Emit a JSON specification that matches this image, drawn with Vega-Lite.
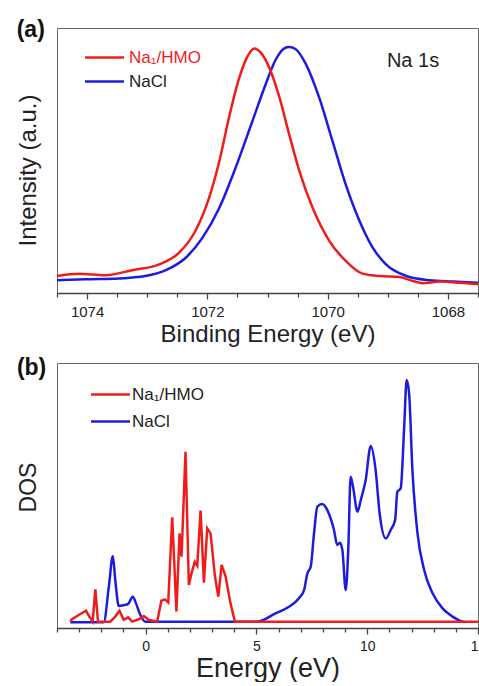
{
  "$schema": "https://vega.github.io/schema/vega-lite/v6.json",
  "padding": {"left": 15, "top": 18, "right": 0, "bottom": 0},
  "background": "white",
  "config": {
    "font": "Liberation Sans",
    "view": {"stroke": "#666", "strokeWidth": 1},
    "axis": {"grid": false, "labelColor": "#222", "titleColor": "#222", "titleFontWeight": "normal", "domainColor": "#444", "tickColor": "#444", "domainWidth": 1.3, "tickWidth": 1.3}
  },
  "resolve": {"scale": {"color": "independent"}, "legend": {"color": "independent"}},
  "spacing": 9,
  "datasets": {
    "xps": [
      {"s": "NaCl", "x": 1074.5, "y": 4.8},
      {"s": "NaCl", "x": 1074.03, "y": 5.2},
      {"s": "NaCl", "x": 1073.47, "y": 5.5},
      {"s": "NaCl", "x": 1073.03, "y": 6.4},
      {"s": "NaCl", "x": 1072.69, "y": 8.6},
      {"s": "NaCl", "x": 1072.36, "y": 13.3},
      {"s": "NaCl", "x": 1072.08, "y": 20.9},
      {"s": "NaCl", "x": 1071.8, "y": 32.2},
      {"s": "NaCl", "x": 1071.53, "y": 47.3},
      {"s": "NaCl", "x": 1071.25, "y": 64.9},
      {"s": "NaCl", "x": 1071.03, "y": 78.8},
      {"s": "NaCl", "x": 1070.86, "y": 88.2},
      {"s": "NaCl", "x": 1070.72, "y": 92.3},
      {"s": "NaCl", "x": 1070.64, "y": 92.8},
      {"s": "NaCl", "x": 1070.53, "y": 92.0},
      {"s": "NaCl", "x": 1070.36, "y": 86.3},
      {"s": "NaCl", "x": 1070.14, "y": 73.7},
      {"s": "NaCl", "x": 1069.92, "y": 57.4},
      {"s": "NaCl", "x": 1069.7, "y": 41.0},
      {"s": "NaCl", "x": 1069.47, "y": 27.2},
      {"s": "NaCl", "x": 1069.25, "y": 17.1},
      {"s": "NaCl", "x": 1069.03, "y": 10.8},
      {"s": "NaCl", "x": 1068.69, "y": 6.4},
      {"s": "NaCl", "x": 1068.31, "y": 4.8},
      {"s": "NaCl", "x": 1067.92, "y": 4.3},
      {"s": "NaCl", "x": 1067.5, "y": 3.9},
      {"s": "Na₁/HMO", "x": 1074.5, "y": 6.4},
      {"s": "Na₁/HMO", "x": 1074.14, "y": 7.3},
      {"s": "Na₁/HMO", "x": 1073.69, "y": 6.7},
      {"s": "Na₁/HMO", "x": 1073.25, "y": 8.6},
      {"s": "Na₁/HMO", "x": 1072.8, "y": 10.8},
      {"s": "Na₁/HMO", "x": 1072.47, "y": 15.2},
      {"s": "Na₁/HMO", "x": 1072.2, "y": 23.4},
      {"s": "Na₁/HMO", "x": 1071.97, "y": 36.0},
      {"s": "Na₁/HMO", "x": 1071.8, "y": 49.8},
      {"s": "Na₁/HMO", "x": 1071.64, "y": 66.2},
      {"s": "Na₁/HMO", "x": 1071.47, "y": 81.2},
      {"s": "Na₁/HMO", "x": 1071.33, "y": 89.4},
      {"s": "Na₁/HMO", "x": 1071.22, "y": 92.3},
      {"s": "Na₁/HMO", "x": 1071.11, "y": 90.7},
      {"s": "Na₁/HMO", "x": 1070.97, "y": 85.0},
      {"s": "Na₁/HMO", "x": 1070.8, "y": 73.7},
      {"s": "Na₁/HMO", "x": 1070.64, "y": 59.9},
      {"s": "Na₁/HMO", "x": 1070.47, "y": 46.0},
      {"s": "Na₁/HMO", "x": 1070.25, "y": 32.2},
      {"s": "Na₁/HMO", "x": 1069.97, "y": 19.6},
      {"s": "Na₁/HMO", "x": 1069.7, "y": 12.1},
      {"s": "Na₁/HMO", "x": 1069.42, "y": 7.3},
      {"s": "Na₁/HMO", "x": 1069.14, "y": 6.4},
      {"s": "Na₁/HMO", "x": 1068.8, "y": 6.0},
      {"s": "Na₁/HMO", "x": 1068.58, "y": 4.5},
      {"s": "Na₁/HMO", "x": 1068.42, "y": 3.7},
      {"s": "Na₁/HMO", "x": 1068.14, "y": 4.3},
      {"s": "Na₁/HMO", "x": 1067.81, "y": 3.9},
      {"s": "Na₁/HMO", "x": 1067.5, "y": 3.3}
    ],
    "dos": [
      {"s": "NaCl", "x": -3.4, "y": 2.2},
      {"s": "NaCl", "x": -1.89, "y": 2.2},
      {"s": "NaCl", "x": -1.66, "y": 15.6},
      {"s": "NaCl", "x": -1.48, "y": 27.2},
      {"s": "NaCl", "x": -1.37, "y": 18.1},
      {"s": "NaCl", "x": -1.21, "y": 8.3},
      {"s": "NaCl", "x": -0.99, "y": 8.6},
      {"s": "NaCl", "x": -0.79, "y": 9.1},
      {"s": "NaCl", "x": -0.58, "y": 11.8},
      {"s": "NaCl", "x": -0.43, "y": 9.2},
      {"s": "NaCl", "x": -0.24, "y": 4.9},
      {"s": "NaCl", "x": -0.01, "y": 2.4},
      {"s": "NaCl", "x": 4.0, "y": 2.4},
      {"s": "NaCl", "x": 5.04, "y": 2.4},
      {"s": "NaCl", "x": 5.86, "y": 5.5},
      {"s": "NaCl", "x": 6.47, "y": 8.0},
      {"s": "NaCl", "x": 6.92, "y": 11.2},
      {"s": "NaCl", "x": 7.15, "y": 14.3},
      {"s": "NaCl", "x": 7.3, "y": 20.6},
      {"s": "NaCl", "x": 7.45, "y": 23.1},
      {"s": "NaCl", "x": 7.6, "y": 35.7},
      {"s": "NaCl", "x": 7.75, "y": 45.8},
      {"s": "NaCl", "x": 7.97, "y": 46.8},
      {"s": "NaCl", "x": 8.2, "y": 44.5},
      {"s": "NaCl", "x": 8.5, "y": 37.0},
      {"s": "NaCl", "x": 8.65, "y": 31.3},
      {"s": "NaCl", "x": 8.77, "y": 32.2},
      {"s": "NaCl", "x": 8.88, "y": 29.4},
      {"s": "NaCl", "x": 9.03, "y": 14.3},
      {"s": "NaCl", "x": 9.15, "y": 30.7},
      {"s": "NaCl", "x": 9.25, "y": 57.1},
      {"s": "NaCl", "x": 9.36, "y": 53.3},
      {"s": "NaCl", "x": 9.56, "y": 43.9},
      {"s": "NaCl", "x": 9.71, "y": 48.3},
      {"s": "NaCl", "x": 9.93, "y": 55.8},
      {"s": "NaCl", "x": 10.16, "y": 68.7},
      {"s": "NaCl", "x": 10.38, "y": 59.6},
      {"s": "NaCl", "x": 10.56, "y": 43.3},
      {"s": "NaCl", "x": 10.84, "y": 33.8},
      {"s": "NaCl", "x": 11.06, "y": 37.0},
      {"s": "NaCl", "x": 11.26, "y": 40.8},
      {"s": "NaCl", "x": 11.36, "y": 51.4},
      {"s": "NaCl", "x": 11.51, "y": 52.7},
      {"s": "NaCl", "x": 11.67, "y": 76.0},
      {"s": "NaCl", "x": 11.78, "y": 93.6},
      {"s": "NaCl", "x": 11.89, "y": 88.6},
      {"s": "NaCl", "x": 12.04, "y": 59.6},
      {"s": "NaCl", "x": 12.27, "y": 35.7},
      {"s": "NaCl", "x": 12.57, "y": 21.9},
      {"s": "NaCl", "x": 12.95, "y": 13.1},
      {"s": "NaCl", "x": 13.4, "y": 7.4},
      {"s": "NaCl", "x": 13.85, "y": 4.3},
      {"s": "NaCl", "x": 14.3, "y": 2.4},
      {"s": "NaCl", "x": 14.4, "y": 2.2},
      {"s": "Na₁/HMO", "x": -3.4, "y": 2.4},
      {"s": "Na₁/HMO", "x": -3.32, "y": 3.3},
      {"s": "Na₁/HMO", "x": -3.02, "y": 4.9},
      {"s": "Na₁/HMO", "x": -2.69, "y": 6.5},
      {"s": "Na₁/HMO", "x": -2.54, "y": 4.3},
      {"s": "Na₁/HMO", "x": -2.39, "y": 2.4},
      {"s": "Na₁/HMO", "x": -2.27, "y": 14.6},
      {"s": "Na₁/HMO", "x": -2.15, "y": 2.4},
      {"s": "Na₁/HMO", "x": -1.6, "y": 2.4},
      {"s": "Na₁/HMO", "x": -1.37, "y": 4.3},
      {"s": "Na₁/HMO", "x": -1.18, "y": 6.5},
      {"s": "Na₁/HMO", "x": -0.99, "y": 3.1},
      {"s": "Na₁/HMO", "x": -0.79, "y": 4.0},
      {"s": "Na₁/HMO", "x": -0.61, "y": 2.4},
      {"s": "Na₁/HMO", "x": -0.31, "y": 3.3},
      {"s": "Na₁/HMO", "x": -0.08, "y": 4.5},
      {"s": "Na₁/HMO", "x": 0.14, "y": 3.1},
      {"s": "Na₁/HMO", "x": 0.52, "y": 2.4},
      {"s": "Na₁/HMO", "x": 0.71, "y": 10.3},
      {"s": "Na₁/HMO", "x": 0.87, "y": 10.8},
      {"s": "Na₁/HMO", "x": 1.02, "y": 9.6},
      {"s": "Na₁/HMO", "x": 1.2, "y": 41.8},
      {"s": "Na₁/HMO", "x": 1.39, "y": 6.2},
      {"s": "Na₁/HMO", "x": 1.53, "y": 35.7},
      {"s": "Na₁/HMO", "x": 1.62, "y": 26.9},
      {"s": "Na₁/HMO", "x": 1.8, "y": 66.5},
      {"s": "Na₁/HMO", "x": 1.95, "y": 16.2},
      {"s": "Na₁/HMO", "x": 2.07, "y": 20.6},
      {"s": "Na₁/HMO", "x": 2.22, "y": 25.0},
      {"s": "Na₁/HMO", "x": 2.33, "y": 23.5},
      {"s": "Na₁/HMO", "x": 2.48, "y": 44.3},
      {"s": "Na₁/HMO", "x": 2.63, "y": 17.1},
      {"s": "Na₁/HMO", "x": 2.78, "y": 37.6},
      {"s": "Na₁/HMO", "x": 2.93, "y": 35.7},
      {"s": "Na₁/HMO", "x": 3.13, "y": 19.4},
      {"s": "Na₁/HMO", "x": 3.28, "y": 11.8},
      {"s": "Na₁/HMO", "x": 3.43, "y": 23.8},
      {"s": "Na₁/HMO", "x": 3.61, "y": 19.4},
      {"s": "Na₁/HMO", "x": 3.83, "y": 9.3},
      {"s": "Na₁/HMO", "x": 4.03, "y": 2.4},
      {"s": "Na₁/HMO", "x": 15.0, "y": 2.4}
    ]
  },
  "vconcat": [
    {
      "width": 421,
      "height": 265,
      "resolve": {"axis": {"x": "independent"}},
      "layer": [
        {
          "data": {"name": "xps"},
          "transform": [{"filter": "datum.s === 'NaCl'"}],
          "mark": {"type": "line", "interpolate": "monotone", "strokeWidth": 2.5},
          "encoding": {
            "x": {
              "field": "x", "type": "quantitative",
              "scale": {"domain": [1067.5, 1074.5], "reverse": true, "nice": false, "zero": false},
              "axis": {
                "orient": "bottom",
                "title": "Binding Energy (eV)", "titleFontSize": 24, "titlePadding": 3,
                "values": [1068, 1070, 1072, 1074], "format": "d", "tickSize": 6,
                "labelFontSize": 15, "labelPadding": 5, "labelFlush": false
              }
            },
            "y": {
              "field": "y", "type": "quantitative",
              "scale": {"domain": [0, 100], "nice": false},
              "axis": {"title": "Intensity (a.u.)", "titleFontSize": 24, "labels": false, "ticks": false, "domain": false, "titlePadding": 17, "titleY": 142}
            },
            "color": {
              "field": "s", "type": "nominal",
              "scale": {"domain": ["Na₁/HMO", "NaCl"], "range": ["#f01c1c", "#1c1ce0"]},
              "legend": {
                "title": null, "orient": "none", "legendX": 39, "legendY": 21,
                "symbolType": "M-3,0H3", "symbolSize": 169, "symbolStrokeWidth": 2.5,
                "labelFontSize": 17, "labelOffset": 16, "rowPadding": 6,
                "encode": {"labels": {"update": {"fill": {"signal": "datum.label === 'NaCl' ? '#222' : '#f01c1c'"}}}}
              }
            }
          }
        },
        {
          "data": {"name": "xps"},
          "transform": [{"filter": "datum.s !== 'NaCl'"}],
          "mark": {"type": "line", "interpolate": "monotone", "strokeWidth": 2.5},
          "encoding": {
            "x": {
              "field": "x", "type": "quantitative",
              "axis": {
                "orient": "bottom", "title": null, "labels": false, "domain": false, "tickSize": 4,
                "values": [1067.5, 1068.5, 1069, 1069.5, 1070.5, 1071, 1071.5, 1072.5, 1073, 1073.5, 1074.5]
              }
            },
            "y": {"field": "y", "type": "quantitative"},
            "color": {"field": "s", "type": "nominal"}
          }
        },
        {
          "data": {"values": [{"t": "Na 1s", "x": 1068.58, "y": 87.5}]},
          "mark": {"type": "text", "fontSize": 20, "color": "#222", "align": "center", "baseline": "middle"},
          "encoding": {
            "x": {"field": "x", "type": "quantitative", "axis": null},
            "y": {"field": "y", "type": "quantitative"},
            "text": {"field": "t"}
          }
        },
        {
          "data": {"values": [{"t": "(a)", "x": 1075.17, "y": 99.2}]},
          "mark": {"type": "text", "fontSize": 23, "fontWeight": "bold", "color": "#111", "align": "left", "baseline": "middle"},
          "encoding": {
            "x": {"field": "x", "type": "quantitative", "axis": null},
            "y": {"field": "y", "type": "quantitative"},
            "text": {"field": "t"}
          }
        }
      ]
    },
    {
      "width": 421,
      "height": 265,
      "resolve": {"axis": {"x": "independent"}},
      "layer": [
        {
          "data": {"name": "dos"},
          "transform": [{"filter": "datum.s === 'NaCl'"}],
          "mark": {"type": "line", "interpolate": "monotone", "strokeWidth": 2.5},
          "encoding": {
            "x": {
              "field": "x", "type": "quantitative",
              "scale": {"domain": [-4, 15], "nice": false, "zero": false},
              "axis": {
                "orient": "bottom",
                "title": "Energy (eV)", "titleFontSize": 27, "titlePadding": 2,
                "values": [0, 5, 10, 15], "tickSize": 6,
                "labelFontSize": 14, "labelPadding": 5, "labelFlush": false
              }
            },
            "y": {
              "field": "y", "type": "quantitative",
              "scale": {"domain": [0, 100], "nice": false},
              "axis": {"title": "DOS", "titleFontSize": 23, "labels": false, "ticks": false, "domain": false, "titlePadding": 17, "titleY": 124}
            },
            "color": {
              "field": "s", "type": "nominal",
              "scale": {"domain": ["Na₁/HMO", "NaCl"], "range": ["#f01c1c", "#1c1ce0"]},
              "legend": {
                "title": null, "orient": "none", "legendX": 45, "legendY": 23,
                "symbolType": "M-3,0H3", "symbolSize": 169, "symbolStrokeWidth": 2.5,
                "labelFontSize": 17, "labelOffset": 13, "rowPadding": 9, "labelColor": "#222"
              }
            }
          }
        },
        {
          "data": {"name": "dos"},
          "transform": [{"filter": "datum.s !== 'NaCl'"}],
          "mark": {"type": "line", "strokeWidth": 2.5},
          "encoding": {
            "x": {
              "field": "x", "type": "quantitative",
              "axis": {
                "orient": "bottom", "title": null, "labels": false, "domain": false, "tickSize": 4,
                "values": [-4, -3, -2, -1, 1, 2, 3, 4, 6, 7, 8, 9, 11, 12, 13, 14]
              }
            },
            "y": {"field": "y", "type": "quantitative"},
            "color": {"field": "s", "type": "nominal"}
          }
        },
        {
          "data": {"values": [{"t": "(b)", "x": -5.81, "y": 98.1}]},
          "mark": {"type": "text", "fontSize": 23, "fontWeight": "bold", "color": "#111", "align": "left", "baseline": "middle"},
          "encoding": {
            "x": {"field": "x", "type": "quantitative", "axis": null},
            "y": {"field": "y", "type": "quantitative"},
            "text": {"field": "t"}
          }
        }
      ]
    }
  ]
}
